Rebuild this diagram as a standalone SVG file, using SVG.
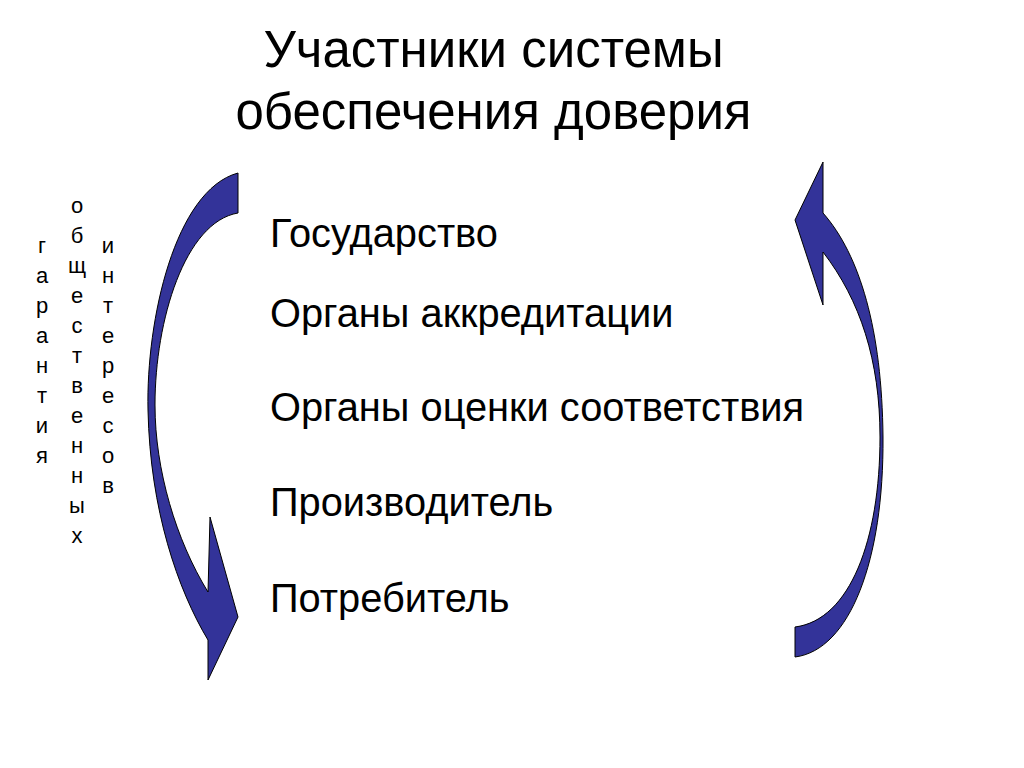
<svg xmlns="http://www.w3.org/2000/svg" width="1024" height="768" viewBox="0 0 1024 768">
<style>
.t{font-family:"Liberation Sans",Arial,sans-serif;fill:#000}
.title{font-size:51px;text-anchor:middle}
.item{font-size:39.8px}
.v{font-size:22px;text-anchor:middle}
.arr{fill:#333399;stroke:#000;stroke-width:1}
</style>
<rect width="1024" height="768" fill="#fff"/>
<g id="title">
<text class="t title" x="493.5" y="67">Участники системы</text>
<text class="t title" x="493.5" y="129">обеспечения доверия</text>
</g>
<g id="vertical-labels">
<text class="t v"><tspan x="42" y="253">г</tspan><tspan x="42" y="283">а</tspan><tspan x="42" y="313">р</tspan><tspan x="42" y="343">а</tspan><tspan x="42" y="373">н</tspan><tspan x="42" y="403">т</tspan><tspan x="42" y="433">и</tspan><tspan x="42" y="463">я</tspan></text>
<text class="t v"><tspan x="77" y="213">о</tspan><tspan x="77" y="243">б</tspan><tspan x="77" y="273">щ</tspan><tspan x="77" y="303">е</tspan><tspan x="77" y="333">с</tspan><tspan x="77" y="363">т</tspan><tspan x="77" y="393">в</tspan><tspan x="77" y="423">е</tspan><tspan x="77" y="453">н</tspan><tspan x="77" y="483">н</tspan><tspan x="77" y="513">ы</tspan><tspan x="77" y="543">х</tspan></text>
<text class="t v"><tspan x="108" y="253">и</tspan><tspan x="108" y="283">н</tspan><tspan x="108" y="313">т</tspan><tspan x="108" y="343">е</tspan><tspan x="108" y="373">р</tspan><tspan x="108" y="403">е</tspan><tspan x="108" y="433">с</tspan><tspan x="108" y="463">о</tspan><tspan x="108" y="493">в</tspan></text>
</g>
<g id="items">
<text class="t item" x="270" y="247">Государство</text>
<text class="t item" x="270" y="327">Органы аккредитации</text>
<text class="t item" x="270" y="421">Органы оценки соответствия</text>
<text class="t item" x="270" y="516">Производитель</text>
<text class="t item" x="270" y="612">Потребитель</text>
</g>
<g id="connectors">
<path id="left-arrow" class="arr" d="M238,173 C175,190 146,320 148,410 C150,510 178,590 208,640 L208,680 L238,617 L210,517 L208,592 C176,540 155,470 155,405 C155,320 185,222 238,213 Z"/>
<path id="right-arrow" class="arr" d="M795,657 C850,650 884,560 883,437 C882,330 860,255 823,213 L823,162 L795,220 L823,305 L823,252 C860,300 880,360 880,437 C880,540 850,620 795,627 Z"/>
</g>
</svg>
